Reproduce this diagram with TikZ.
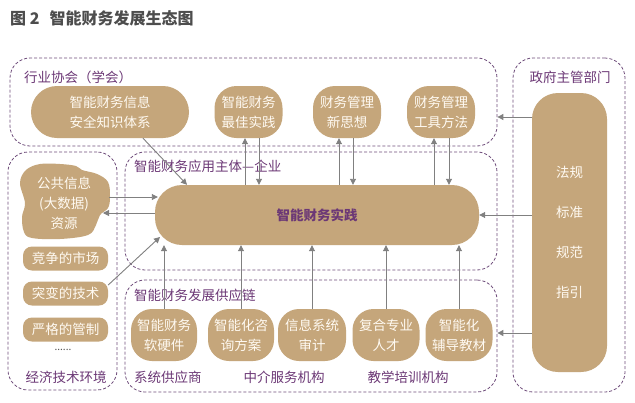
\documentclass[tikz,border=0pt]{standalone}
\usepackage{fontspec}
\setmainfont{Noto Sans CJK SC}
\usetikzlibrary{arrows.meta}
\definecolor{tanc}{RGB}{197,166,123}
\definecolor{purp}{RGB}{108,56,118}
\definecolor{dashc}{RGB}{112,78,124}
\definecolor{arrc}{RGB}{128,128,128}
\definecolor{titc}{RGB}{77,77,77}
\definecolor{txtc}{RGB}{255,250,242}
\begin{document}
\begin{tikzpicture}[x=1pt,y=-1pt,
  container/.style={draw=dashc, dash pattern=on 3pt off 2pt, line width=0.8pt, rounded corners=20pt, inner sep=0pt},
  lab/.style={text=purp, font=\fontsize{13.5}{16}\selectfont, inner sep=0pt},
  tan/.style={fill=tanc, text=txtc, align=center, inner sep=0pt, font=\fontsize{13.5}{20}\selectfont},
  arr/.style={draw=arrc, line width=0.9pt, -{Triangle[length=6pt,width=6pt]}}
]
\useasboundingbox[fill=white] (0,0) rectangle (635,402);

% title
\node[anchor=west, text=titc, font=\fontsize{16}{18}\selectfont\bfseries, inner sep=0pt] (title) at (10,18) {图 2\hspace{10pt}智能财务发展生态图};

% containers
\node[container, minimum width=487pt, minimum height=88pt] (assoc) at (253.5,102) {};
\node[container, minimum width=112pt, minimum height=334pt] (govbox) at (569,225) {};
\node[container, minimum width=109pt, minimum height=238pt] (envbox) at (62.5,271) {};
\node[container, minimum width=372pt, minimum height=118pt] (entbox) at (311,211) {};
\node[container, minimum width=372pt, minimum height=112pt] (supbox) at (311,336) {};

% container labels
\node[lab, anchor=west] (assocl) at (24,77) {行业协会（学会）};
\node[lab] (govl) at (570,77) {政府主管部门};
\node[lab, anchor=west] (entl) at (134,166) {智能财务应用主体—企业};
\node[lab, anchor=west] (supl) at (134,295) {智能财务发展供应链};
\node[lab] (envl) at (66,377) {经济技术环境};
\node[lab, anchor=west] (sl1) at (134,377) {系统供应商};
\node[lab] (sl2) at (284,377) {中介服务机构};
\node[lab] (sl3) at (408,377) {教学培训机构};

% association nodes
\node[tan, rounded corners=26pt, minimum width=158pt, minimum height=52pt] (sec) at (110,112) {智能财务信息\\安全知识体系};
\node[tan, rounded corners=22pt, minimum width=68pt, minimum height=52pt] (best) at (248.5,112) {智能财务\\最佳实践};
\node[tan, rounded corners=22pt, minimum width=68pt, minimum height=52pt] (idea) at (347,112) {财务管理\\新思想};
\node[tan, rounded corners=22pt, minimum width=68pt, minimum height=52pt] (tool) at (441,112) {财务管理\\工具方法};

% government
\node[tan, rounded corners=26pt, minimum width=75pt, minimum height=279pt] (gov) at (569.5,232.5) {法规\\[20pt]标准\\[20pt]规范\\[20pt]指引};

% environment
\fill[tanc] plot[smooth cycle, tension=0.6] coordinates {(20,183) (26,170) (40,164) (60,164) (76,166) (82,170) (97,174) (108,182) (110,197) (108,208) (100,215) (96,225) (88,235) (60,239) (32,238) (24,232) (22,217) (25,203)};
\node[tan, fill=none, minimum width=90pt, minimum height=76pt] (pub) at (64,203) {公共信息\\(大数据)\\资源};
\coordinate (pubr) at (103,213);
\node[tan, rounded corners=9pt, minimum width=85pt, minimum height=24pt] (mkt) at (65.5,258.5) {竞争的市场};
\node[tan, rounded corners=9pt, minimum width=85pt, minimum height=24pt] (tech) at (65.5,293.5) {突变的技术};
\node[tan, rounded corners=9pt, minimum width=85pt, minimum height=24pt] (reg) at (65.5,329.5) {严格的管制};
\node[text=titc, font=\fontsize{10}{12}\selectfont, inner sep=0pt] (dots) at (63,350) {......};

% practice
\node[tan, rounded corners=27pt, minimum width=324pt, minimum height=60pt, text=purp, font=\fontsize{13.5}{16}\selectfont\bfseries] (prac) at (317,215) {智能财务实践};
\coordinate (pracsw) at (160,237);

% supply chain nodes
\node[tan, rounded corners=21pt, minimum width=66pt, minimum height=52pt] (sw1) at (164,335) {智能财务\\软硬件};
\node[tan, rounded corners=21pt, minimum width=66pt, minimum height=52pt] (sw2) at (241,335) {智能化咨\\询方案};
\node[tan, rounded corners=21pt, minimum width=68pt, minimum height=52pt] (sw3) at (312,335) {信息系统\\审计};
\node[tan, rounded corners=21pt, minimum width=67pt, minimum height=52pt] (sw4) at (386,335) {复合专业\\人才};
\node[tan, rounded corners=21pt, minimum width=67pt, minimum height=52pt] (sw5) at (459,335) {智能化\\辅导教材};

% connectors
\draw[arr, shorten >=-3pt] (pub.east |- 0,197) -- (prac.west |- 0,197);
\draw[arr] (prac.west |- 0,213) -- (pubr);
\draw[arr] (sec.south -| 143,0) -- (prac.north -| 187,0);
\draw[arr] (tech.east |- 0,285) -- (pracsw);

\draw[arr] (prac.north -| 245,0) -- (best.south -| 245,0);
\draw[arr] (best.south -| 259,0) -- (prac.north -| 259,0);
\draw[arr] (prac.north -| 339,0) -- (idea.south -| 339,0);
\draw[arr] (idea.south -| 353,0) -- (prac.north -| 353,0);
\draw[arr] (prac.north -| 434,0) -- (tool.south -| 434,0);
\draw[arr] (tool.south -| 449,0) -- (prac.north -| 449,0);

\draw[arr] (sw1.north) -- (prac.south -| sw1.north);
\draw[arr] (sw2.north) -- (prac.south -| sw2.north);
\draw[arr] (sw3.north) -- (prac.south -| sw3.north);
\draw[arr] (sw4.north) -- (prac.south -| sw4.north);
\draw[arr] (sw5.north) -- (prac.south -| sw5.north);

\draw[arr] (gov.west |- 0,117) -- (assoc.east |- 0,117);
\draw[arr] (gov.west |- prac.east) -- (prac.east);
\draw[arr] (gov.west |- 0,333) -- (supbox.east |- 0,333);
\end{tikzpicture}
\end{document}
